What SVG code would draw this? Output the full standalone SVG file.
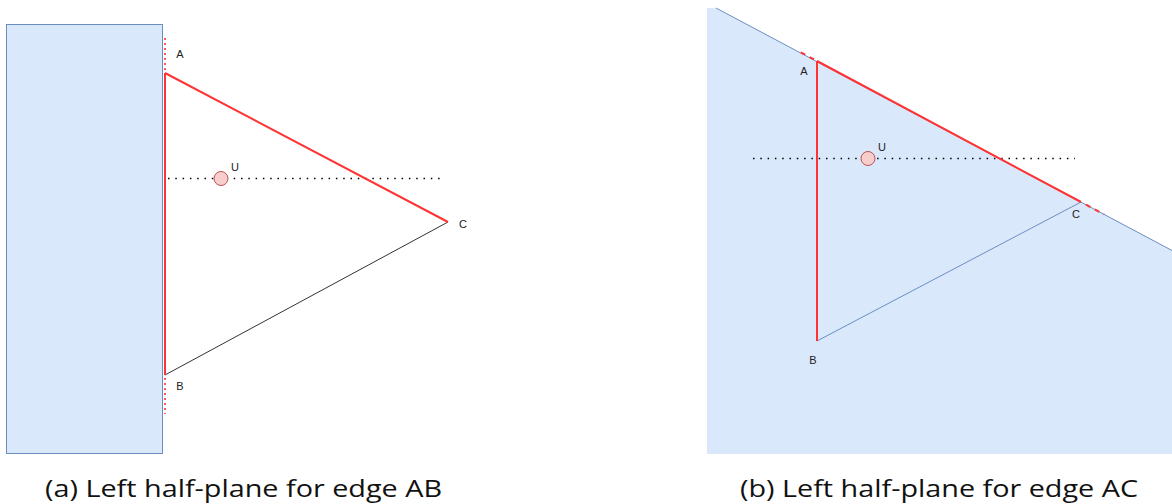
<svg xmlns="http://www.w3.org/2000/svg" width="1172" height="504" viewBox="0 0 1172 504">
<style>
.plane{fill:#dae8fc;stroke:none}
.pedge{fill:none;stroke:#6c8ebf;stroke-width:1}
.red{fill:none;stroke:#ff3333;stroke-width:2}
.reddot{fill:none;stroke:#ff5555;stroke-width:2;stroke-dasharray:2 3}
.reddash{fill:none;stroke:#ff3333;stroke-width:2;stroke-dasharray:5 5}
.dot{fill:none;stroke:#000;stroke-width:1.5;stroke-dasharray:1.5 5.8}
.blk{fill:none;stroke:#333;stroke-width:1}
.u{fill:#f8cecc;stroke:#b85450;stroke-width:1}
.lbl{font-family:"Liberation Sans",Arial,sans-serif;font-size:11px;fill:#222;text-anchor:middle}
.cap{font-family:"Open Sans","Liberation Sans",Arial,sans-serif;font-size:24px;fill:#111}
</style>
<g id="panel-a">
<g id="halfplane-a"><rect x="6.5" y="24.5" width="156" height="429" class="plane" style="stroke:#6c8ebf;stroke-width:1"/></g>
<g id="connectors-a">
<line x1="165" y1="38" x2="165" y2="72" class="reddot"/>
<line x1="165" y1="378" x2="165" y2="414" class="reddot"/>
<line x1="168" y1="178.5" x2="443" y2="178.5" class="dot"/>
<line x1="165" y1="375" x2="448" y2="222" class="blk"/>
<line x1="165" y1="73" x2="165" y2="375" class="red"/>
<line x1="165" y1="73" x2="448" y2="222" class="red"/>
</g>
<g id="node-a-A"><text x="180" y="58" class="lbl">A</text></g>
<g id="node-a-B"><text x="180" y="390" class="lbl">B</text></g>
<g id="node-a-C"><text x="463" y="228" class="lbl">C</text></g>
<g id="node-a-U"><circle cx="221" cy="178.5" r="7" class="u"/><text x="235" y="171" class="lbl">U</text></g>
<text x="45" y="497" class="cap" textLength="397" lengthAdjust="spacingAndGlyphs">(a) Left half-plane for edge AB</text>
</g>
<g id="panel-b">
<g id="halfplane-b"><polygon points="707,8 716,8 1172,250.5 1172,454 707,454" class="plane"/><line x1="716" y1="8" x2="1172" y2="250.5" class="pedge"/></g>
<g id="connectors-b">
<line x1="753" y1="158.5" x2="1075" y2="158.5" class="dot"/>
<line x1="817" y1="341" x2="1081" y2="202" class="pedge"/>
<line x1="817" y1="61" x2="817" y2="341" class="red"/>
<line x1="817" y1="61" x2="1081" y2="202" class="red"/>
<line x1="814" y1="59.4" x2="799" y2="51.4" class="reddash"/>
<line x1="1086" y1="204.7" x2="1104" y2="214.3" class="reddash"/>
</g>
<g id="node-b-A"><text x="804" y="75" class="lbl">A</text></g>
<g id="node-b-B"><text x="813" y="364" class="lbl">B</text></g>
<g id="node-b-C"><text x="1076" y="218" class="lbl">C</text></g>
<g id="node-b-U"><circle cx="868" cy="158.5" r="7" class="u"/><text x="882" y="151" class="lbl">U</text></g>
<text x="740" y="497" class="cap" textLength="398" lengthAdjust="spacingAndGlyphs">(b) Left half-plane for edge AC</text>
</g>
</svg>
